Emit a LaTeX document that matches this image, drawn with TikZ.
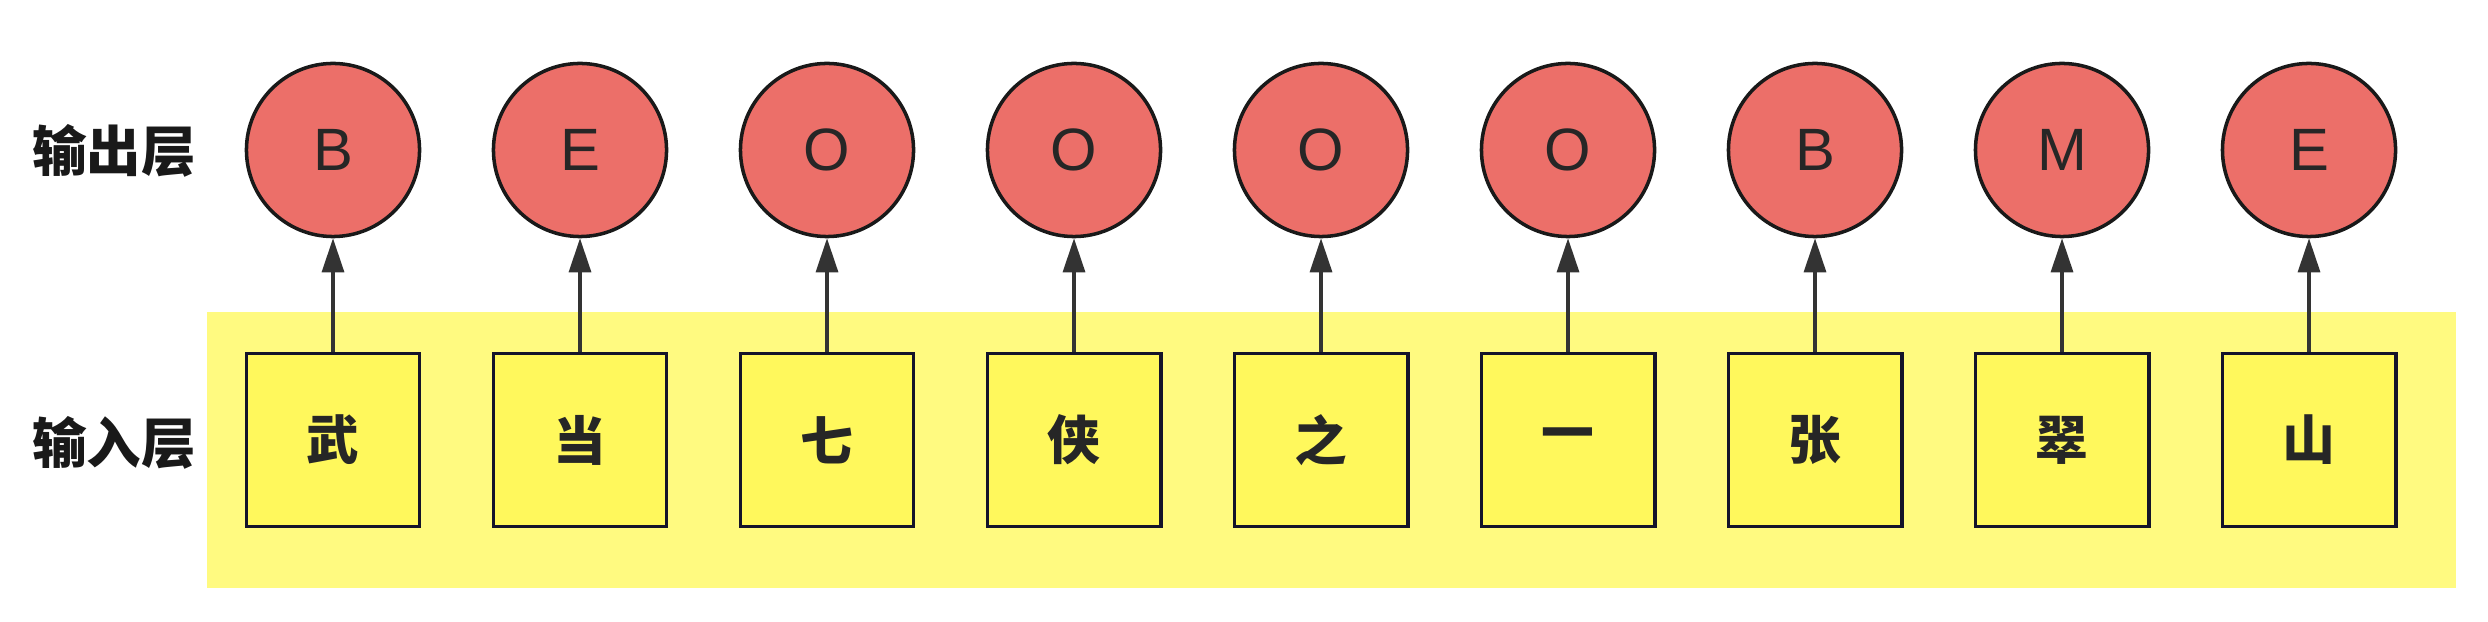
\documentclass[tikz,border=0pt]{standalone}
\usepackage{fontspec}
\setmainfont{Liberation Sans}
\newfontfamily\cjk{Noto Sans CJK SC}
\usetikzlibrary{arrows.meta}
\definecolor{tagred}{HTML}{EC6F69}
\definecolor{boxyellow}{HTML}{FFF85C}
\definecolor{bgyellow}{HTML}{FFFA80}
\definecolor{boxline}{HTML}{14142A}

\begin{document}
\begin{tikzpicture}[x=0.01cm,y=-0.01cm,
		layer/.style={font=\cjk\bfseries\fontsize{15.5}{18}\selectfont, text=black!90},
		tag/.style={circle, draw=black!90, line width=1pt, fill=tagred, minimum size=1.73cm, inner sep=0pt,
			font=\fontsize{17}{20}\selectfont, text=black!85},
		char/.style={rectangle, draw=boxline, line width=1.1pt, fill=boxyellow, minimum size=1.73cm, inner sep=0pt,
			font=\cjk\bfseries\fontsize{15}{18}\selectfont, text=black!85},
		link/.style={-{Triangle[length=0.34cm,width=0.22cm]}, line width=0.9pt, draw=black!80}]
	\useasboundingbox (0,0) rectangle (2488,622);
	% input band
	\fill[bgyellow] (207,312) rectangle (2456,588);
	\node[layer] (outlbl) at (114,151) {输出层};
	\node[layer] (inlbl) at (114,443) {输入层};
	\foreach \t/\c [count=\i] in {B/武,E/当,O/七,O/侠,O/之,O/一,B/张,M/翠,E/山} {
		\node[tag] (y\i) at ({333+(\i-1)*247},150) {\t};
		\node[char] (x\i) at ({333+(\i-1)*247},440) {\c};
		\draw[link] (x\i) -- (y\i);
	}
\end{tikzpicture}
\end{document}
